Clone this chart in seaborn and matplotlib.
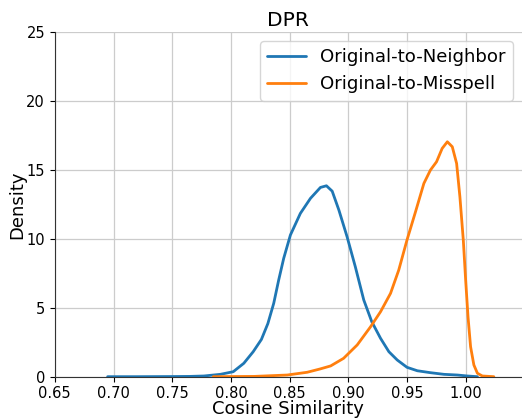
import matplotlib
matplotlib.use("Agg")
from matplotlib import pyplot as plt
import pandas as pd
import seaborn as sns

# density curves
neighbor_x = [0.695, 0.72, 0.75, 0.765, 0.777, 0.791, 0.802, 0.811, 0.819, 0.826, 0.8315, 0.8365,
              0.8407, 0.845, 0.8507, 0.8592, 0.8678, 0.8763, 0.8814, 0.8863, 0.892, 0.899,
              0.906, 0.9132, 0.920, 0.9275, 0.9346, 0.9417, 0.950, 0.9588, 0.970, 0.9815,
              0.993, 1.0014, 1.01]
neighbor_y = [0.0, 0.0, 0.01, 0.02, 0.05, 0.17, 0.36, 0.97, 1.81, 2.7, 3.85, 5.32,
              7.0, 8.58, 10.27, 11.84, 12.93, 13.72, 13.84, 13.45, 12.08, 10.14,
              7.97, 5.56, 3.99, 2.78, 1.81, 1.21, 0.68, 0.43, 0.29, 0.17,
              0.12, 0.05, 0.0]

misspell_x = [0.785, 0.82, 0.848, 0.865, 0.876, 0.885, 0.896, 0.9076, 0.919, 0.9275, 0.936,
              0.943, 0.950, 0.9573, 0.9644, 0.970, 0.9752, 0.980, 0.9844, 0.9886, 0.9923,
              0.9951, 0.998, 1.000, 1.002, 1.0042, 1.007, 1.010, 1.0142, 1.024]
misspell_y = [0.0, 0.02, 0.12, 0.32, 0.56, 0.78, 1.33, 2.30, 3.62, 4.71, 6.04,
              7.73, 9.9, 11.96, 14.01, 14.98, 15.58, 16.55, 17.03, 16.67, 15.46,
              13.04, 9.9, 7.0, 4.35, 2.17, 0.85, 0.25, 0.05, 0.0]

x_ticks = [0.65, 0.70, 0.75, 0.80, 0.85, 0.90, 0.95, 1.00]
y_ticks = [0, 5, 10, 15, 20, 25]

df_n = pd.DataFrame({"x": neighbor_x, "y": neighbor_y})
df_m = pd.DataFrame({"x": misspell_x, "y": misspell_y})

sns.set_style("ticks", rc={"text.color": "black", "axes.labelcolor": "black",
                           "xtick.color": "black", "ytick.color": "black",
                           "xtick.major.size": 3.5, "ytick.major.size": 3.5,
                           "xtick.major.pad": 2.5, "ytick.major.pad": 2.5})
plt.rcParams["font.family"] = ["DejaVu Sans"]

fig = plt.figure(figsize=(5.22, 4.19), dpi=100)
ax = fig.add_axes([0.105, 0.101, 0.895, 0.823])

sns.lineplot(data=df_n, x="x", y="y", color="#1f77b4", linewidth=2, label="Original-to-Neighbor", ax=ax)
sns.lineplot(data=df_m, x="x", y="y", color="#ff7f0e", linewidth=2, label="Original-to-Misspell", ax=ax)

ax.set_xlim(0.65, 1.048)
ax.set_ylim(0, 25)
ax.set_xticks(x_ticks)
ax.set_xticklabels(["%.2f" % t for t in x_ticks])
ax.set_yticks(y_ticks)
ax.tick_params(labelsize=10.5)
ax.grid(True, color="#cccccc", linewidth=0.9)
ax.set_axisbelow(True)
sns.despine(ax=ax)
ax.spines["left"].set_color("#333333")
ax.spines["bottom"].set_color("#333333")

ax.set_title("DPR", fontsize=14.5, pad=4)
ax.set_xlabel("Cosine Similarity", fontsize=13, labelpad=-1)
ax.set_ylabel("Density", fontsize=13, labelpad=0)
ax.legend(loc="upper right", fontsize=13.1, frameon=True, handlelength=2.1)

fig.savefig("out.png", dpi=100)
